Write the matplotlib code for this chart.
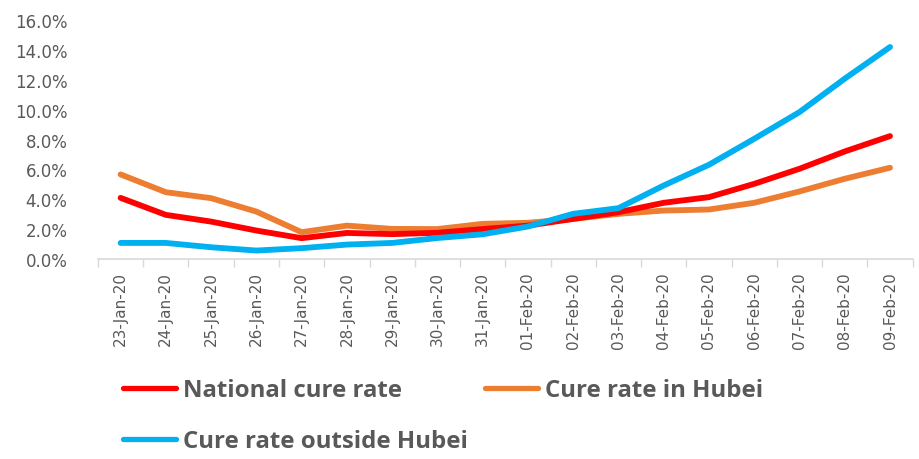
import matplotlib
matplotlib.use("Agg")
import matplotlib.pyplot as plt
from matplotlib.ticker import FixedLocator, PercentFormatter
from matplotlib.lines import Line2D

dates = ["23-Jan-20", "24-Jan-20", "25-Jan-20", "26-Jan-20", "27-Jan-20", "28-Jan-20",
         "29-Jan-20", "30-Jan-20", "31-Jan-20", "01-Feb-20", "02-Feb-20", "03-Feb-20",
         "04-Feb-20", "05-Feb-20", "06-Feb-20", "07-Feb-20", "08-Feb-20", "09-Feb-20"]
national = [4.09, 2.95, 2.50, 1.90, 1.39, 1.74, 1.66, 1.75, 2.00, 2.23, 2.68, 3.13,
            3.76, 4.14, 5.03, 6.04, 7.20, 8.23]
hubei = [5.66, 4.47, 4.07, 3.17, 1.79, 2.23, 2.01, 2.00, 2.35, 2.42, 2.68, 3.02,
         3.24, 3.31, 3.76, 4.52, 5.37, 6.11]
outside = [1.07, 1.07, 0.78, 0.56, 0.72, 0.96, 1.07, 1.40, 1.65, 2.17, 3.02, 3.40,
           4.92, 6.31, 8.05, 9.84, 12.08, 14.20]
series_names = ["National cure rate", "Cure rate in Hubei", "Cure rate outside Hubei"]
colors = ["#FF0000", "#ED7D31", "#00B0F0"]

plt.rcParams['font.family'] = ['DejaVu Sans']
fig = plt.figure(figsize=(9.2, 4.6), dpi=100)
ax = fig.add_axes([0.1065, 0.435, 0.8855, 0.519])

x = list(range(len(dates)))
lines = []
for vals, c in zip([national, hubei, outside], colors):
    l, = ax.plot(x, vals, color=c, lw=4.2, solid_capstyle='round', solid_joinstyle='round')
    lines.append(l)
lines[0].set_zorder(3)
lines[1].set_zorder(2)
lines[2].set_zorder(4)

ax.set_xlim(-0.5, len(dates) - 0.5)
ax.set_ylim(0, 16)
ax.set_yticks([0, 2, 4, 6, 8, 10, 12, 14, 16])
ax.yaxis.set_major_formatter(PercentFormatter(decimals=1))
ax.tick_params(axis='y', length=0, labelsize=12, labelcolor='#595959', pad=22)

ax.set_xticks(x)
ax.set_xticklabels(dates, rotation=90, fontsize=11, color='#595959')
ax.tick_params(axis='x', which='major', length=0, pad=9)
ax.xaxis.set_minor_locator(FixedLocator([i - 0.5 for i in range(len(dates) + 1)]))
ax.tick_params(axis='x', which='minor', length=6, color='#D9D9D9', width=1)

for s in ['top', 'right', 'left']:
    ax.spines[s].set_visible(False)
ax.spines['bottom'].set_color('#D9D9D9')
ax.spines['bottom'].set_linewidth(1.2)

# legend: one entry each, placed like the reference
leg_font = {'family': ['Open Sans', 'DejaVu Sans'], 'weight': 'bold', 'size': 17.3}
positions = [(123 / 920, 0.150), (485 / 920, 0.150), (123 / 920, 0.039)]
for name, c, (px, py) in zip(series_names, colors, positions):
    h = Line2D([0], [0], color=c, lw=3.8, solid_capstyle='round')
    leg = fig.legend([h], [name], loc='center left', bbox_to_anchor=(px, py),
                     bbox_transform=fig.transFigure, frameon=False, prop=leg_font,
                     handlelength=2.2, handletextpad=0.3, borderaxespad=0, borderpad=0)
    for t in leg.get_texts():
        t.set_color('#595959')

fig.savefig("out.png", dpi=100, facecolor='white')
